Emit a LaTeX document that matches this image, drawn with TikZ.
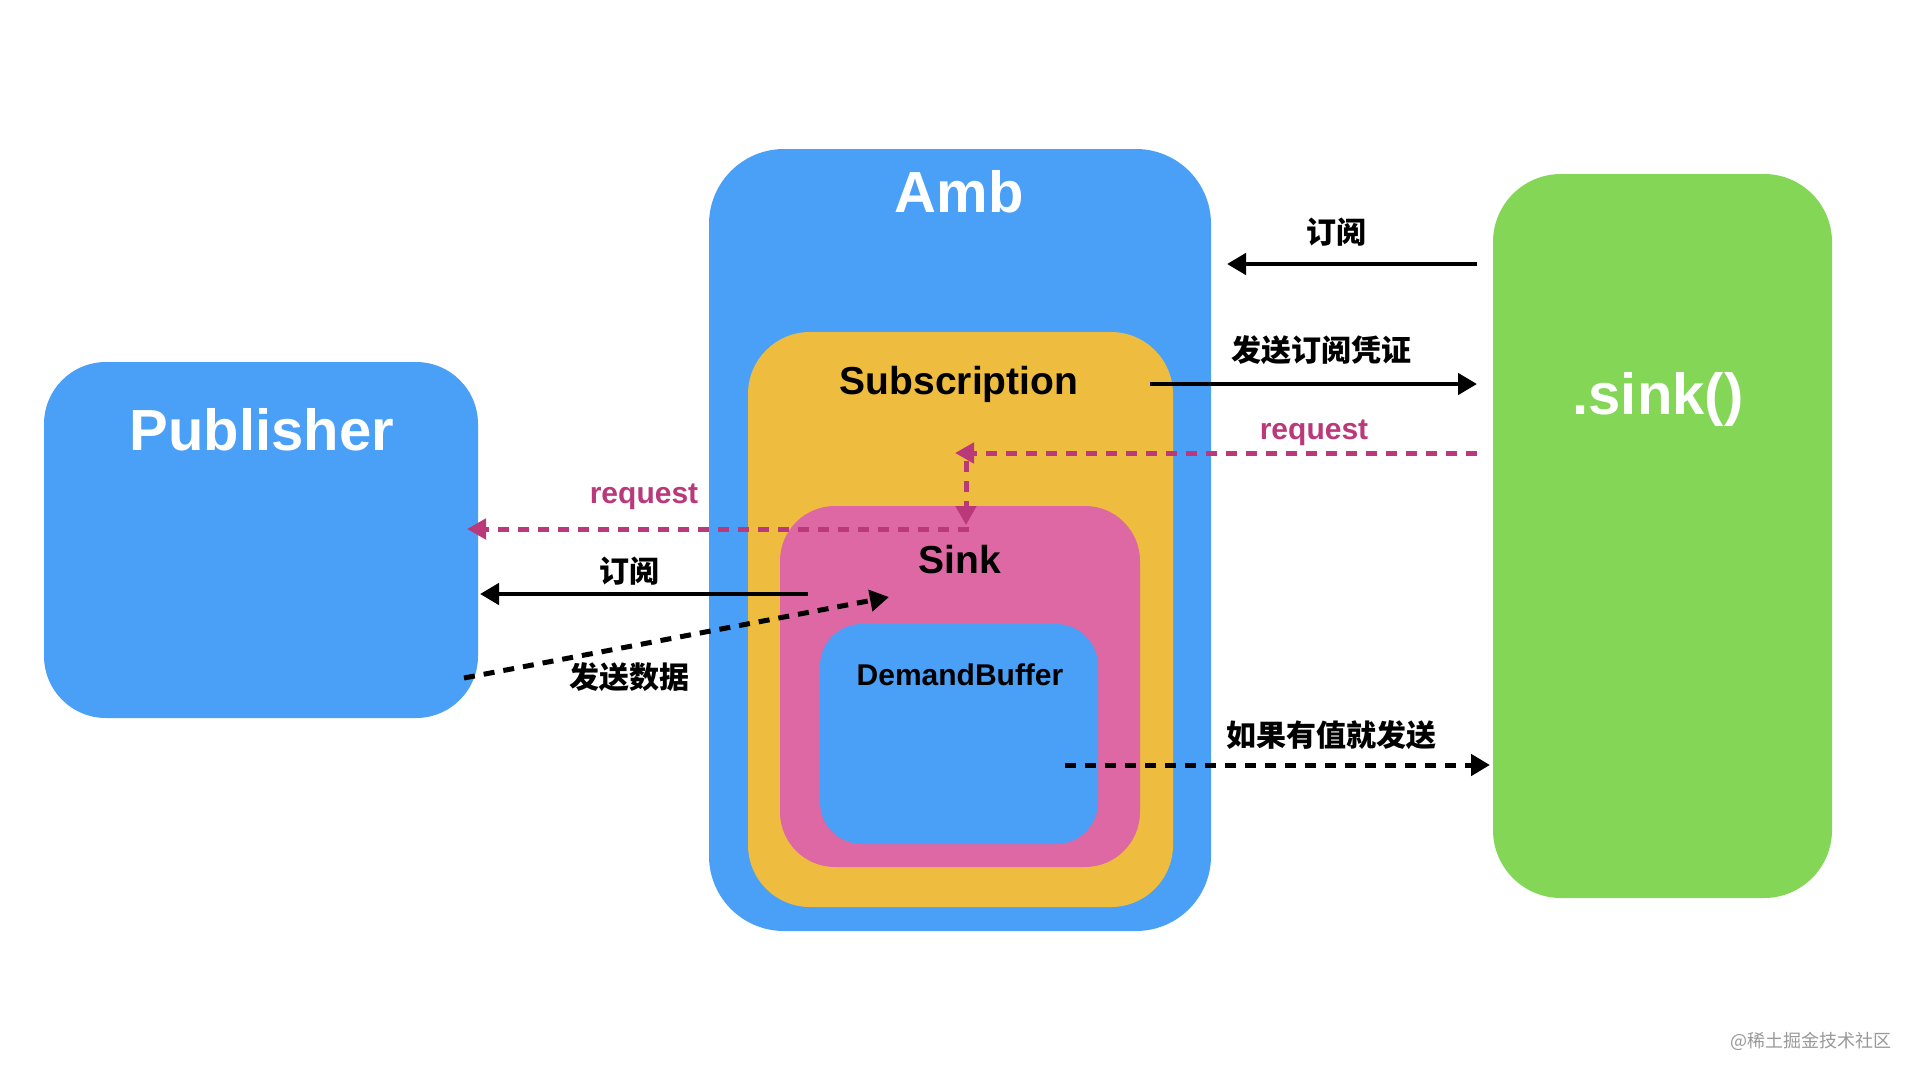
\documentclass[tikz,border=0pt]{standalone}
\usepackage{fontspec}
\setmainfont{Liberation Sans}
\newfontfamily\cjk{Noto Sans CJK SC}
\usetikzlibrary{arrows.meta}
\definecolor{cblue}{HTML}{4A9FF6}
\definecolor{cyellow}{HTML}{EEBC3F}
\definecolor{cpink}{HTML}{DD68A3}
\definecolor{cgreen}{HTML}{83D656}
\definecolor{cmag}{HTML}{B9397A}
\tikzset{
  box/.style={rectangle, inner sep=0pt, draw=none, rounded corners=#1},
  title/.style={font=\fontsize{#1}{#1}\selectfont\bfseries, inner sep=0pt, anchor=base},
  cn/.style={font=\fontsize{30}{30}\selectfont\cjk\bfseries, inner sep=0pt},
  solidarrow/.style={line width=4.5pt, -{Triangle[length=19pt,width=21pt]}},
  blackdash/.style={line width=5pt, dash pattern=on 11pt off 9pt, -{Triangle[length=19pt,width=21pt]}},
  magdash/.style={line width=5pt, cmag, dash pattern=on 11pt off 9pt, -{Triangle[length=19pt,width=20pt]}},
  reqlabel/.style={font=\fontsize{30}{30}\selectfont\bfseries, text=cmag, inner sep=0pt}
}
\begin{document}
\begin{tikzpicture}[x=1pt,y=-1pt]
\useasboundingbox (0,0) rectangle (1920,1080);
\fill[white] (0,0) rectangle (1920,1080);
% boxes
\node[box=62pt, fill=cblue, minimum width=434pt, minimum height=356pt] (pub) at (261,540) {};
\node[box=75pt, fill=cblue, minimum width=502pt, minimum height=782pt] (amb) at (960,540) {};
\node[box=62pt, fill=cyellow, minimum width=425pt, minimum height=575pt] (sub) at (960.5,619.5) {};
\node[box=55pt, fill=cpink, minimum width=360pt, minimum height=361pt] (sinkbox) at (960,686.5) {};
\node[box=42pt, fill=cblue, minimum width=278pt, minimum height=220pt] (buf) at (959,734) {};
\node[box=68pt, fill=cgreen, minimum width=339pt, minimum height=724pt] (snk) at (1662.5,536) {};
% titles
\node[title=58, text=white] (pubt) at (262,450) {Publisher};
\node[title=58, text=white] (ambt) at (959,212) {Amb};
\node[title=39] (subt) at (959,394) {Subscription};
\node[title=39] (sinkt) at (960,573) {Sink};
\node[title=30] (buft) at (960,685) {DemandBuffer};
\node[title=58, text=white] (snkt) at (1658,414) {.sink()};
% endpoints
\coordinate (a1s) at (1477,264); \coordinate (a1e) at (1227,264);
\coordinate (a2s) at (1150,384); \coordinate (a2e) at (1477,384);
\coordinate (a3s) at (1477,453); \coordinate (a3e) at (955,453);
\coordinate (a4s) at (966,461); \coordinate (a4e) at (966,525);
\coordinate (a5s) at (969,529); \coordinate (a5e) at (467,529);
\coordinate (a6s) at (808,594); \coordinate (a6e) at (480,594);
\coordinate (a7s) at (464,678); \coordinate (a7e) at (889,597);
\coordinate (a8s) at (1065,765); \coordinate (a8e) at (1490,765);
% arrows
\draw[solidarrow] (a1s) -- (a1e);
\draw[solidarrow] (a2s) -- (a2e);
\draw[magdash] (a3s) -- (a3e);
\draw[magdash] (a4s) -- (a4e);
\draw[magdash] (a5s) -- (a5e);
\draw[solidarrow] (a6s) -- (a6e);
\draw[blackdash] (a7s) -- (a7e);
\draw[blackdash] (a8s) -- (a8e);
% labels
\node[cn] (l1) at (1336,232) {订阅};
\node[cn] (l2) at (1321,350) {发送订阅凭证};
\node[reqlabel] (l3) at (1314,433) {request};
\node[reqlabel] (l4) at (644,497) {request};
\node[cn] (l5) at (629,571) {订阅};
\node[cn] (l6) at (629,677) {发送数据};
\node[cn] (l7) at (1331,735) {如果有值就发送};
\node[font=\fontsize{18}{18}\selectfont\cjk, text=black!40, inner sep=0pt] (wm) at (1811,1041) {@稀土掘金技术社区};
\end{tikzpicture}
\end{document}
